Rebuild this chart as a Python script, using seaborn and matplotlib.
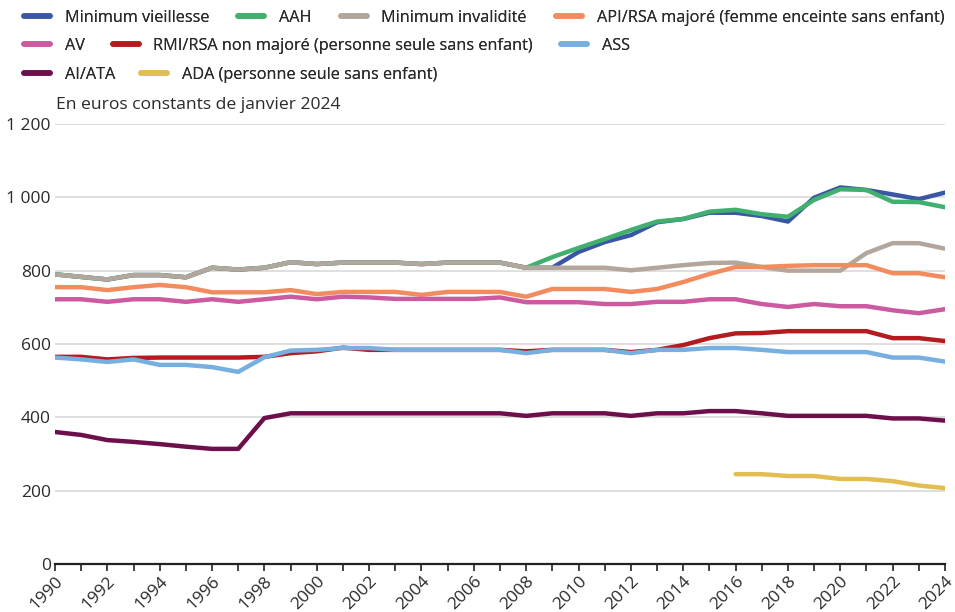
import numpy as np
import pandas as pd
import seaborn as sns
import matplotlib.pyplot as plt
from matplotlib.lines import Line2D
from matplotlib.ticker import MultipleLocator, FuncFormatter

years = list(range(1990, 2025))

min_invalidite = [790, 783, 776, 788, 788, 782, 808, 803, 808, 823, 818, 822, 822, 822, 818, 822, 822, 822,
                  808, 808, 808, 808, 801, 808, 815, 821, 822, 810, 800, 800, 800, 848, 875, 875, 860]
min_vieillesse = min_invalidite[:20] + [851, 878, 897, 932, 941, 958, 958, 949, 934, 999, 1027, 1020, 1008, 995, 1013]
aah = min_invalidite[:19] + [837, 862, 886, 911, 934, 941, 961, 966, 954, 947, 993, 1022, 1020, 988, 987, 973]
api_rsa_majore = [755, 755, 747, 755, 761, 755, 741, 741, 741, 747, 736, 742, 742, 742, 734, 742, 742, 742,
                  729, 750, 750, 750, 742, 750, 769, 791, 810, 810, 813, 815, 815, 815, 793, 793, 782]
av = [722, 722, 715, 722, 722, 715, 722, 715, 722, 729, 722, 729, 727, 723, 723, 723, 723, 727,
      714, 714, 714, 709, 709, 715, 715, 722, 722, 709, 701, 709, 703, 703, 692, 684, 695]
rmi_rsa = [565, 565, 558, 562, 563, 563, 563, 563, 565, 575, 580, 590, 584, 584, 584, 584, 584, 584,
           580, 584, 584, 584, 578, 584, 597, 616, 629, 630, 635, 635, 635, 635, 616, 616, 608]
ass = [563, 558, 551, 558, 543, 543, 537, 524, 564, 582, 584, 589, 589, 584, 584, 584, 584, 584,
       575, 584, 584, 584, 575, 584, 584, 589, 589, 584, 578, 578, 578, 578, 563, 563, 552]
ai_ata = [360, 352, 338, 333, 327, 320, 314, 314, 398, 411, 411, 411, 411, 411, 411, 411, 411, 411,
          404, 411, 411, 411, 404, 411, 411, 417, 417, 411, 404, 404, 404, 404, 397, 397, 391]
ada = [np.nan] * 26 + [245, 245, 240, 240, 232, 232, 226, 214, 207]

names = ["Minimum vieillesse", "AAH", "Minimum invalidité",
         "API/RSA majoré (femme enceinte sans enfant)", "AV",
         "RMI/RSA non majoré (personne seule sans enfant)", "ASS",
         "AI/ATA", "ADA (personne seule sans enfant)"]
series = [min_vieillesse, aah, min_invalidite, api_rsa_majore, av, rmi_rsa, ass, ai_ata, ada]
colors = ["#3a56a5", "#41b06f", "#b3a69c", "#f28b5e", "#cc5aa0",
          "#b31b1f", "#76afe0", "#6c0f4b", "#e2bd52"]

rows = []
for n, vals in zip(names, series):
    for y, v in zip(years, vals):
        if not np.isnan(v):
            rows.append({"year": y, "value": v, "series": n})
df = pd.DataFrame(rows)

sns.set_theme(style="white")
plt.rcParams['font.family'] = ['Open Sans', 'DejaVu Sans']

TXT = "#2a2a2a"
fig = plt.figure(figsize=(9.55, 6.12), dpi=100)
ax = fig.add_axes([55 / 955, 1 - 564 / 612, 890 / 955, 440 / 612])

sns.lineplot(data=df, x="year", y="value", hue="series", hue_order=names,
             palette=dict(zip(names, colors)), linewidth=3.2, legend=False, ax=ax,
             solid_capstyle="round", solid_joinstyle="round")

ax.set_xlim(1990, 2024)
ax.set_ylim(0, 1200)
ax.set_xlabel("")
ax.set_ylabel("")
ax.yaxis.set_major_locator(MultipleLocator(200))
ax.yaxis.set_major_formatter(FuncFormatter(lambda v, p: f"{int(v):,}".replace(",", " ")))
ax.grid(axis="y", color="#d9d9d9", lw=1.2)
ax.set_axisbelow(True)
for s in ["top", "right", "left"]:
    ax.spines[s].set_visible(False)
ax.spines["bottom"].set_color("#222222")
ax.spines["bottom"].set_linewidth(1.6)

ax.xaxis.set_major_locator(MultipleLocator(2))
ax.xaxis.set_minor_locator(MultipleLocator(1))
ax.tick_params(axis="x", which="both", bottom=True, length=5, width=1.2, color="#222222",
               direction="out", labelsize=12.5, labelcolor=TXT, pad=2)
ax.tick_params(axis="y", length=0, pad=3, labelsize=12.5, labelcolor=TXT)
for lab in ax.get_xticklabels():
    lab.set_rotation(45)
    lab.set_ha("right")
    lab.set_rotation_mode("anchor")

fig.text(56 / 955, 1 - 105 / 612, "En euros constants de janvier 2024", va="center", ha="left",
         fontsize=12.6, color=TXT)

legend_rows = [[0, 1, 2, 3], [4, 5, 6], [7, 8]]
row_y = [18, 46, 75]
row_spacing = [1.8, 1.73, 1.6]
for idxs, yy, cs in zip(legend_rows, row_y, row_spacing):
    handles = [Line2D([], [], color=colors[i], lw=4, solid_capstyle="round") for i in idxs]
    labels = [names[i] for i in idxs]
    leg = fig.legend(handles, labels, loc="center left", bbox_to_anchor=(24 / 955, 1 - yy / 612),
                     bbox_transform=fig.transFigure, ncol=len(idxs), frameon=False,
                     borderpad=0, borderaxespad=0, handlelength=1.6, handletextpad=0.9,
                     columnspacing=cs, fontsize=11.7, labelcolor=TXT)
    fig.add_artist(leg)

fig.savefig("out.png", dpi=100)
